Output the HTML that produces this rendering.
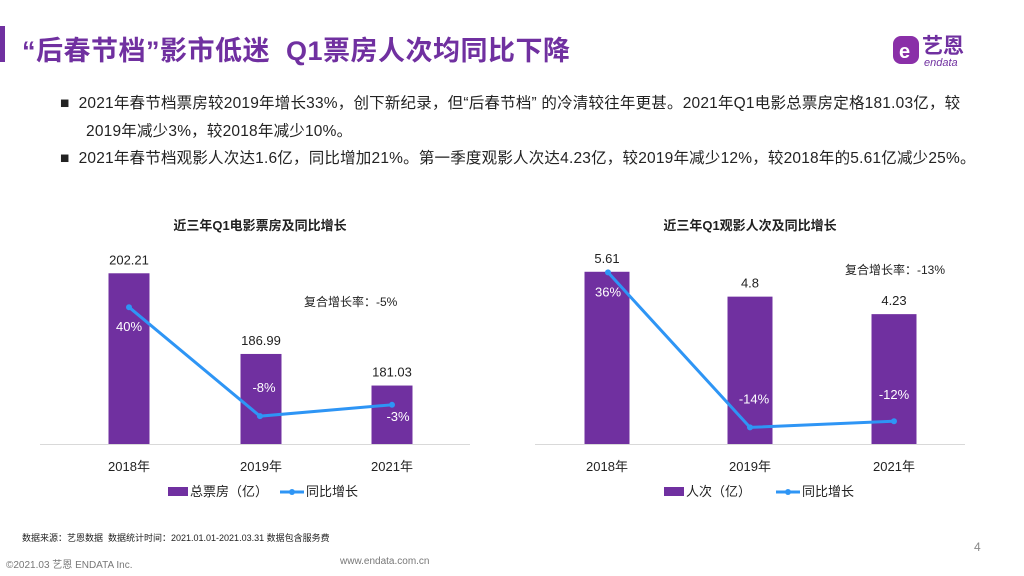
<!DOCTYPE html>
<html><head><meta charset="utf-8"><style>
body{margin:0;width:1024px;height:576px;overflow:hidden;background:#fff;font-family:"Liberation Sans","Noto Sans CJK SC",sans-serif;position:relative}
.a{position:absolute;white-space:nowrap}
</style></head><body>
<div class="a" style="left:0;top:26px;width:5px;height:36px;background:#7030A0"></div>
<div class="a" style="left:22px;top:29px;font-size:27px;font-weight:bold;color:#7030A0;letter-spacing:0.5px">“后春节档”影市低迷&nbsp; Q1票房人次均同比下降</div>
<div class="a" style="left:890px;top:30px;width:120px;height:40px">
<svg width="120" height="40"><rect x="3" y="6" width="26" height="28" rx="8" fill="#8a2fa8"/><text x="9" y="28" font-size="20" fill="#fff" font-weight="bold" font-family="Liberation Sans">e</text><text x="32" y="23" font-size="21" font-weight="bold" fill="#7030A0" font-family="Noto Sans CJK SC">艺恩</text><text x="34" y="36" font-size="11" fill="#7030A0" font-family="Liberation Sans" font-style="italic">endata</text></svg></div>
<div class="a" style="left:60px;top:90px;font-size:15.5px;color:#222;line-height:28px;letter-spacing:0.2px">■ &nbsp;2021年春节档票房较2019年增长33%，创下新纪录，但“后春节档” 的冷清较往年更甚。2021年Q1电影总票房定格181.03亿，较<br><span style="padding-left:26px">2019年减少3%，较2018年减少10%。</span></div>
<div class="a" style="left:60px;top:145px;font-size:15.5px;color:#222;line-height:28px;letter-spacing:0.2px">■ &nbsp;2021年春节档观影人次达1.6亿，同比增加21%。第一季度观影人次达4.23亿，较2019年减少12%，较2018年的5.61亿减少25%。</div>
<svg class="a" style="left:0;top:0" width="1024" height="576" id="ch"></svg>
<div class="a" style="left:22px;top:531px;font-size:9px;color:#222">数据来源：艺恩数据&nbsp; 数据统计时间：2021.01.01-2021.03.31 数据包含服务费</div>
<div class="a" style="left:6px;top:556px;font-size:10px;color:#777">©2021.03 艺恩 ENDATA Inc.</div>
<div class="a" style="left:340px;top:556px;font-size:10px;color:#777">www.endata.com.cn</div>
<div class="a" style="left:974px;top:540px;font-size:12px;color:#888">4</div>
<script>
const categories=["2018年","2019年","2021年"];
const boxValues=[202.21,186.99,181.03];
const boxGrowth=[40,-8,-3];
const boxValueLabels=["202.21","186.99","181.03"];
const boxGrowthLabels=["40%","-8%","-3%"];
const admValues=[5.61,4.8,4.23];
const admGrowth=[36,-14,-12];
const admValueLabels=["5.61","4.8","4.23"];
const admGrowthLabels=["36%","-14%","-12%"];
const NS="http://www.w3.org/2000/svg";
const svg=document.getElementById('ch');
function el(t,a,txt){const e=document.createElementNS(NS,t);for(const k in a)e.setAttribute(k,a[k]);if(txt!=null)e.textContent=txt;svg.appendChild(e);return e;}
function chart(o){
  const base=444;
  const y=v=>base-(v-o.vmin)*o.vpx;
  const yl=g=>o.g0-g*o.gpx;
  const t=el('text',{x:o.cx,y:230,'text-anchor':'middle','font-size':13,'font-weight':'bold',fill:'#222'},o.title);
  
  const ax=el('line',{x1:o.x0,x2:o.x1,y1:base+0.5,y2:base+0.5,stroke:'#d9d9d9','stroke-width':1});
  
  const pts=[];
  o.vals.forEach((v,i)=>{
    const cx=o.xs[i];const top=y(v);
    const b=el('rect',{x:cx-o.bw/2,y:top,width:o.bw,height:base-top,fill:'#7030A0'});
    
    const vl=el('text',{x:cx,y:top-9,'text-anchor':'middle','font-size':13,fill:'#222'},o.vlabels[i]);
    
    const cl=el('text',{x:cx,y:471,'text-anchor':'middle','font-size':13,fill:'#222'},categories[i]);
    
    pts.push([o.lx[i],yl(o.growth[i])]);
  });
  const pl=el('polyline',{points:pts.map(p=>p.join(',')).join(' '),fill:'none',stroke:'#2E95F5','stroke-width':3});
  
  pts.forEach((p,i)=>{
    const c=el('circle',{cx:p[0],cy:p[1],r:3,fill:'#2E95F5'});
    
    const off=i==0?[0,24]:(i==1?[4,-24]:(o.key=='box'?[6,16]:[0,-22]));
    const g=el('text',{x:p[0]+off[0],y:p[1]+off[1],'text-anchor':'middle','font-size':13,fill:'#fff'},o.glabels[i]);
    
  });
  const cg=el('text',{x:o.cagrX,y:o.cagrY,'font-size':12,fill:'#222'},o.cagr);
  
  const lr=el('rect',{x:o.legX,y:487,width:20,height:9,fill:'#7030A0'});
  
  const lt=el('text',{x:o.legX+22,y:496,'font-size':13,fill:'#222'},o.legBar);
  
  const ll=el('line',{x1:o.legX+112,x2:o.legX+136,y1:492,y2:492,stroke:'#2E95F5','stroke-width':3});
  
  el('circle',{cx:o.legX+124,cy:492,r:3,fill:'#2E95F5'});
  const lt2=el('text',{x:o.legX+138,y:496,'font-size':13,fill:'#222'},'同比增长');
  
}
chart({key:'box',title:'近三年Q1电影票房及同比增长',cx:260,x0:40,x1:470,xs:[129,261,392],lx:[129,260,392],bw:41,vals:boxValues,vmin:170,vpx:5.3,growth:boxGrowth,g0:398,gpx:2.27,vlabels:boxValueLabels,glabels:boxGrowthLabels,cagr:'复合增长率：-5%',cagrX:304,cagrY:306,legBar:'总票房（亿）',legX:168});
chart({key:'adm',title:'近三年Q1观影人次及同比增长',cx:750,x0:535,x1:965,xs:[607,750,894],lx:[608,750,894],bw:45,vals:admValues,vmin:0,vpx:30.7,growth:admGrowth,g0:384,gpx:3.1,vlabels:admValueLabels,glabels:admGrowthLabels,cagr:'复合增长率：-13%',cagrX:845,cagrY:274,legBar:'人次（亿）',legX:664});
</script>
</body></html>
